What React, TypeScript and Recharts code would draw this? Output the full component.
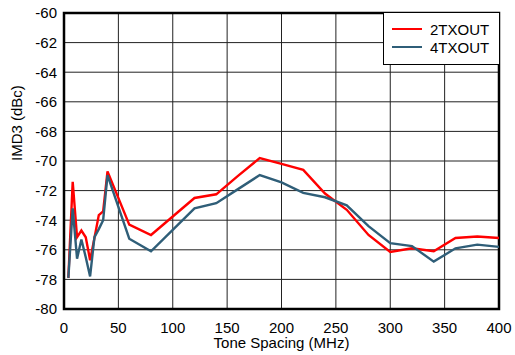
import { LineChart, Line, XAxis, YAxis, CartesianGrid, Legend, ReferenceArea } from 'recharts';

// tone spacing in MHz
const spacing = [4, 8, 12, 16, 20, 24, 28, 32, 36, 40, 60, 80, 100, 120, 140, 160, 180, 200, 220, 240, 260, 280, 300, 320, 340, 360, 380, 400];

const tx2 = [-77.9, -71.4, -75.15, -74.7, -75.15, -76.7, -75.2, -73.65, -73.4, -70.7, -74.3, -75.0, -73.75, -72.5, -72.25, -71.0, -69.8, -70.2, -70.6, -72.2, -73.3, -75.0, -76.15, -75.9, -76.1, -75.2, -75.1, -75.2];
const tx4 = [-77.9, -73.2, -76.6, -75.3, -76.5, -77.8, -75.15, -74.6, -74.0, -70.95, -75.25, -76.1, -74.65, -73.2, -72.85, -71.9, -70.95, -71.45, -72.15, -72.45, -73.0, -74.4, -75.55, -75.75, -76.8, -75.9, -75.65, -75.8];

const xTicks = [0, 50, 100, 150, 200, 250, 300, 350, 400];
const yTicks = [-80, -78, -76, -74, -72, -70, -68, -66, -64, -62, -60];

const seriesNames = ['2TXOUT', '4TXOUT'];
const COLORS = ['#ff0000', '#2f5e78'];

const data = spacing.map((s, i) => ({ s, a: tx2[i], b: tx4[i] }));

const FONT = '"Liberation Sans", Arial, sans-serif';

function LegendBox() {
  return (
    <div
      style={{
        boxSizing: 'border-box',
        width: 117,
        height: 53,
        border: '1.5px solid #000',
        background: '#fff',
        padding: '7px 0 0 8px',
        fontFamily: FONT,
        fontSize: 15,
        color: '#000',
      }}
    >
      {seriesNames.map((name, i) => (
        <div key={name} style={{ display: 'flex', alignItems: 'center', height: 18 }}>
          <div style={{ width: 30, height: 2, background: COLORS[i], marginRight: 8 }} />
          <span>{name}</span>
        </div>
      ))}
    </div>
  );
}

export default function App() {
  const tick = { fill: '#000', fontSize: 15, fontFamily: FONT };
  return (
    <div style={{ position: 'absolute', left: 0, top: 0, background: '#fff' }}>
      <LineChart width={515} height={355} data={data} margin={{ top: 13, right: 16, bottom: 0, left: 0 }}>
        <CartesianGrid stroke="#222" strokeWidth={1} />
        <XAxis
          dataKey="s"
          type="number"
          domain={[0, 400]}
          ticks={xTicks}
          height={46}
          tickLine={false}
          axisLine={false}
          tickSize={6}
          tickMargin={7}
          tick={tick}
          interval={0}
          label={{ value: 'Tone Spacing (MHz)', position: 'insideBottom', offset: 7, fill: '#000', fontSize: 15, fontFamily: FONT }}
        />
        <YAxis
          type="number"
          domain={[-80, -60]}
          ticks={yTicks}
          width={64}
          tickLine={false}
          axisLine={false}
          tickSize={6}
          tickMargin={1}
          tick={tick}
          interval={0}
          label={{ value: 'IMD3 (dBc)', angle: -90, position: 'insideLeft', offset: 17, fill: '#000', fontSize: 15, fontFamily: FONT }}
        />
        <Line type="linear" dataKey="a" name={seriesNames[0]} stroke={COLORS[0]} strokeWidth={2.4} dot={false} isAnimationActive={false} />
        <Line type="linear" dataKey="b" name={seriesNames[1]} stroke={COLORS[1]} strokeWidth={2.4} dot={false} isAnimationActive={false} />
        <ReferenceArea x1={0} x2={400} y1={-80} y2={-60} fill="none" stroke="#000" strokeWidth={2.5} ifOverflow="visible" />
        <Legend
          layout="vertical"
          align="center"
          verticalAlign="middle"
          content={() => <LegendBox />}
          wrapperStyle={{ position: 'absolute', top: 12, left: 383, width: 117, height: 53 }}
        />
      </LineChart>
    </div>
  );
}
